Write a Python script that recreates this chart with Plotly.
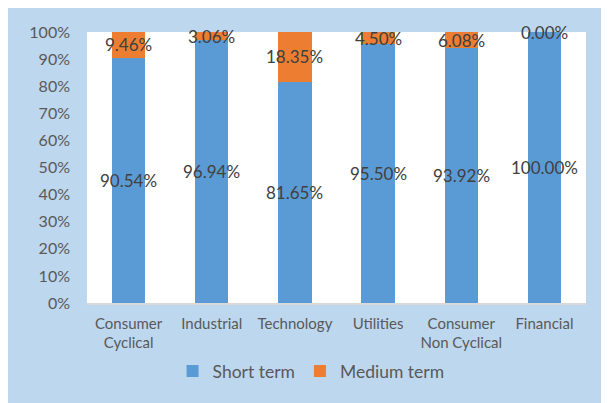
import plotly.graph_objects as go

categories = ["Consumer<br>Cyclical", "Industrial", "Technology", "Utilities", "Consumer<br>Non Cyclical", "Financial"]
short_term = [90.54, 96.94, 81.65, 95.50, 93.92, 100.00]
medium_term = [9.46, 3.06, 18.35, 4.50, 6.08, 0.00]
y_ticks = [0, 10, 20, 30, 40, 50, 60, 70, 80, 90, 100]

BLUE = "#5B9BD5"
ORANGE = "#ED7D31"
FONT = "Lato, Open Sans, sans-serif"

fig = go.Figure()
fig.add_trace(go.Bar(name="Short term", x=categories, y=short_term, marker_color=BLUE,
                     marker_line_width=0, hoverinfo="skip"))
fig.add_trace(go.Bar(name="Medium term", x=categories, y=medium_term, marker_color=ORANGE,
                     marker_line_width=0, hoverinfo="skip"))

annotations = []
for c, s, m in zip(categories, short_term, medium_term):
    annotations.append(dict(x=c, y=s / 2, xref="x", yref="y", text=f"{s:.2f}%", showarrow=False,
                            font=dict(family=FONT, size=17, color="#404040")))
    annotations.append(dict(x=c, y=s + m / 2, xref="x", yref="y", text=f"{m:.2f}%", showarrow=False,
                            font=dict(family=FONT, size=17, color="#404040")))

fig.update_layout(
    width=609, height=403,
    barmode="stack", bargap=0.6,
    paper_bgcolor="#BDD7EE", plot_bgcolor="white",
    margin=dict(l=79, r=31, t=24, b=108),
    font=dict(family=FONT, color="#595959"),
    showlegend=True,
    legend=dict(orientation="h", x=0.449, xanchor="center", y=-0.251, yanchor="middle",
                font=dict(size=17.5, color="#595959"), bgcolor="rgba(0,0,0,0)",
                itemwidth=30, traceorder="normal"),
    annotations=annotations,
    xaxis=dict(showgrid=False, showline=True, linecolor="#D9D9D9", linewidth=1.5, ticks="",
               tickfont=dict(size=15, color="#595959"), ticklabelstandoff=6, fixedrange=True),
    yaxis=dict(range=[0, 100], tickvals=y_ticks, ticktext=[f"{v}%" for v in y_ticks],
               showgrid=False, zeroline=False, ticks="", ticklabelstandoff=16,
               tickfont=dict(size=16, color="#595959"), fixedrange=True),
)

fig.write_html("out.html")
